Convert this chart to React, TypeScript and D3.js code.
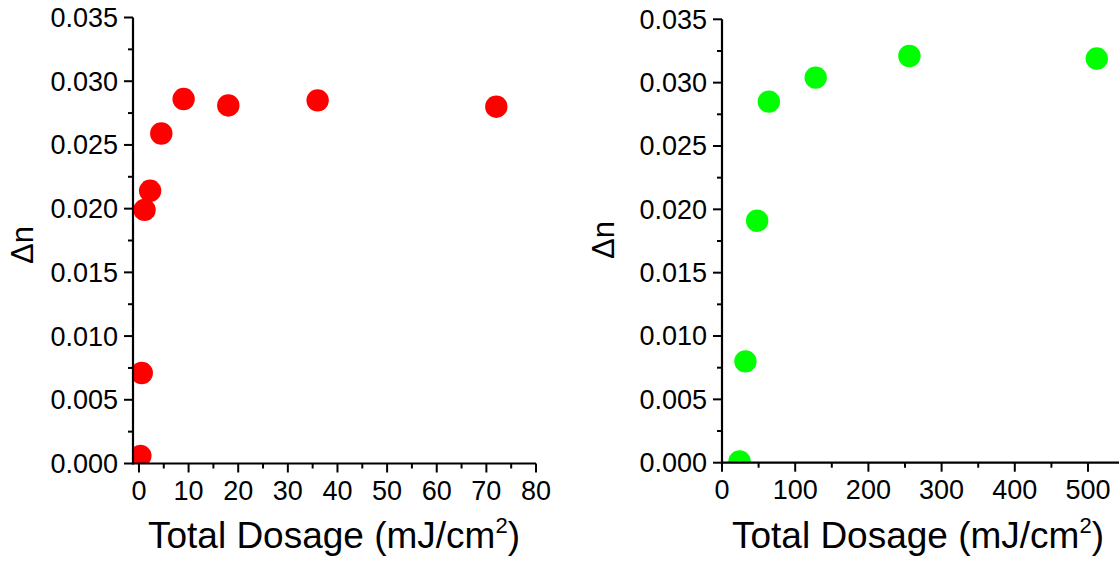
import React, { useRef, useEffect } from 'react';
import * as d3 from 'd3';

// left panel (red): total dosage vs index change
const leftDose = [0.28, 0.56, 1.125, 2.25, 4.5, 9, 18, 36, 72];
const leftDn = [0.0006, 0.0071, 0.0199, 0.0214, 0.0259, 0.0286, 0.0281, 0.0285, 0.028];

// right panel (green)
const rightDose = [24, 32, 48, 64, 128, 256, 512];
const rightDn = [0.0001, 0.008, 0.0191, 0.0285, 0.0304, 0.0321, 0.0319];

const yTicks = [0, 0.005, 0.01, 0.015, 0.02, 0.025, 0.03, 0.035];
const yMinor = [0.0025, 0.0075, 0.0125, 0.0175, 0.0225, 0.0275, 0.0325];
const leftXTicks = [0, 10, 20, 30, 40, 50, 60, 70, 80];
const leftXMinor = [5, 15, 25, 35, 45, 55, 65, 75];
const rightXTicks = [0, 100, 200, 300, 400, 500];
const rightXMinor = [50, 150, 250, 350, 450, 550];

const FONT = '"Liberation Sans", Arial, sans-serif';

const panels = [
    {
        id: 'left', dose: leftDose, dn: leftDn, color: '#ff0000',
        xDomain: [-1.2, 80], xRange: [133, 536], yRange: [463.5, 17.5],
        xTicks: leftXTicks, xMinor: leftXMinor,
        yLabelX: 33, yLabelY: 245, titleX: 334,
    },
    {
        id: 'right', dose: rightDose, dn: rightDn, color: '#00ff00',
        xDomain: [0, 550], xRange: [722, 722 + 550 * 0.732], yRange: [462.7, 19.3],
        xTicks: rightXTicks, xMinor: rightXMinor,
        yLabelX: 614, yLabelY: 240, titleX: 918,
    },
];

const App = () => {
    const svgRef = useRef<SVGSVGElement>(null);

    useEffect(() => {
        const svg = d3.select(svgRef.current);
        svg.selectAll('*').remove();

        panels.forEach(p => {
            const x = d3.scaleLinear().domain(p.xDomain).range(p.xRange);
            const y = d3.scaleLinear().domain([0, 0.035]).range(p.yRange);
            const g = svg.append('g');

            // clip markers to the plot box
            const clipId = `clip-${p.id}`;
            svg.append('clipPath').attr('id', clipId)
                .append('rect')
                .attr('x', p.xRange[0])
                .attr('y', p.yRange[1] - 20)
                .attr('width', p.xRange[1] - p.xRange[0])
                .attr('height', p.yRange[0] - p.yRange[1] + 20);

            g.append('g')
                .attr('clip-path', `url(#${clipId})`)
                .selectAll('circle')
                .data(p.dose.map((d, i) => ({ d, v: p.dn[i] })))
                .join('circle')
                .attr('cx', d => x(d.d))
                .attr('cy', d => y(d.v))
                .attr('r', 11.2)
                .attr('fill', p.color);

            // x axis
            const xAxis = g.append('g').attr('transform', `translate(0,${p.yRange[0]})`);
            xAxis.append('line')
                .attr('x1', p.xRange[0]).attr('x2', p.xRange[1])
                .attr('stroke', 'black').attr('stroke-width', 2.2);
            xAxis.selectAll('.maj').data(p.xTicks).join('line')
                .attr('x1', d => x(d)).attr('x2', d => x(d))
                .attr('y1', 0).attr('y2', 9)
                .attr('stroke', 'black').attr('stroke-width', 2);
            xAxis.selectAll('.min').data(p.xMinor).join('line')
                .attr('x1', d => x(d)).attr('x2', d => x(d))
                .attr('y1', 0).attr('y2', 5)
                .attr('stroke', 'black').attr('stroke-width', 2);
            xAxis.selectAll('text').data(p.xTicks).join('text')
                .attr('x', d => x(d))
                .attr('y', 36)
                .attr('text-anchor', 'middle')
                .attr('font-family', FONT)
                .attr('font-size', 27)
                .text(d => d3.format('d')(d));

            // y axis
            const yAxis = g.append('g').attr('transform', `translate(${p.xRange[0]},0)`);
            yAxis.append('line')
                .attr('y1', p.yRange[0] + 1).attr('y2', p.yRange[1])
                .attr('stroke', 'black').attr('stroke-width', 2.2);
            yAxis.selectAll('.maj').data(yTicks).join('line')
                .attr('y1', d => y(d)).attr('y2', d => y(d))
                .attr('x1', 0).attr('x2', -9)
                .attr('stroke', 'black').attr('stroke-width', 2);
            yAxis.selectAll('.min').data(yMinor).join('line')
                .attr('y1', d => y(d)).attr('y2', d => y(d))
                .attr('x1', 0).attr('x2', -5)
                .attr('stroke', 'black').attr('stroke-width', 2);
            yAxis.selectAll('text').data(yTicks).join('text')
                .attr('x', -15)
                .attr('y', d => y(d))
                .attr('dy', '0.35em')
                .attr('text-anchor', 'end')
                .attr('font-family', FONT)
                .attr('font-size', 27)
                .text(d => d3.format('.3f')(d));

            // y label
            g.append('text')
                .attr('transform', `translate(${p.yLabelX},${p.yLabelY}) rotate(-90)`)
                .attr('text-anchor', 'middle')
                .attr('font-family', FONT)
                .attr('font-size', 31)
                .text('Δn');

            // x label with superscript
            const title = g.append('text')
                .attr('x', p.titleX)
                .attr('y', 548)
                .attr('text-anchor', 'middle')
                .attr('font-family', FONT)
                .attr('font-size', 37);
            title.append('tspan').text('Total Dosage (mJ/cm');
            title.append('tspan').attr('font-size', 22).attr('dy', -15).text('2');
            title.append('tspan').attr('dy', 15).text(')');
        });
    }, []);

    return (
        <svg
            ref={svgRef}
            width={1119}
            height={561}
            style={{ position: 'absolute', left: 0, top: 0, background: 'white' }}
        />
    );
};

export default App;
